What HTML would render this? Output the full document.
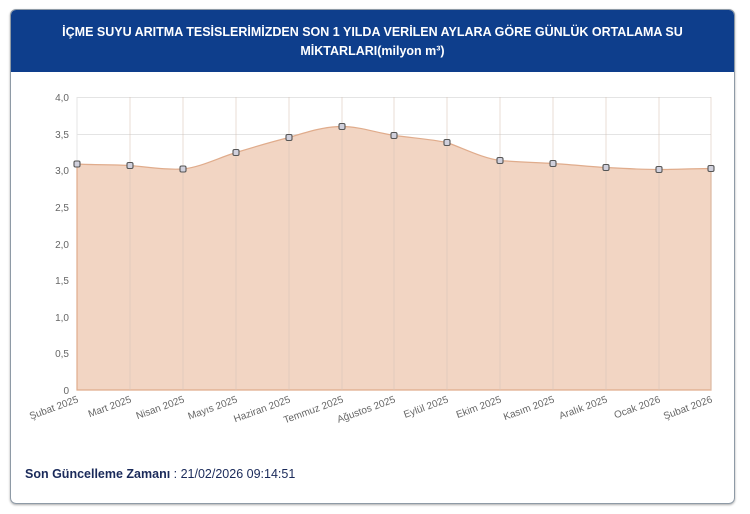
<!DOCTYPE html>
<html><head><meta charset="utf-8"><style>
body{margin:0;width:750px;height:514px;background:#fff;font-family:"Liberation Sans",sans-serif;overflow:hidden}
.card{position:absolute;left:10px;top:9px;width:723px;height:493px;border:1px solid #8e9aa6;border-radius:6px;overflow:hidden;box-shadow:0 1px 2px #aaa}
.hdr{background:#0e3e8c;height:62px;color:#fff;font-weight:bold;font-size:12.5px;text-align:center;line-height:19px;padding-top:13px;box-sizing:border-box}
</style></head><body>
<div class="card"><div class="hdr">İÇME SUYU ARITMA TESİSLERİMİZDEN SON 1 YILDA VERİLEN AYLARA GÖRE GÜNLÜK ORTALAMA SU<br>MİKTARLARI(milyon m³)</div></div>
<svg style="position:absolute;left:0;top:0" width="750" height="514">
<g stroke="#e4e4e4" stroke-width="1">
<line x1="77" x2="711" y1="97.5" y2="97.5"/><line x1="77" x2="711" y1="134.5" y2="134.5"/><line x1="77" x2="711" y1="170.5" y2="170.5"/><line x1="77" x2="711" y1="207.5" y2="207.5"/><line x1="77" x2="711" y1="244.5" y2="244.5"/><line x1="77" x2="711" y1="280.5" y2="280.5"/><line x1="77" x2="711" y1="317.5" y2="317.5"/><line x1="77" x2="711" y1="353.5" y2="353.5"/>
<line x1="77" x2="77" y1="97" y2="390"/>
</g>
<path d="M77,164 C95,165 112,164.5 130,165.5 C148,167 165,170 183,169 C201,167 218,158 236,152.5 C254,147 271,142 289,137.5 C307,132 324,126.5 342,126.5 C360,126.5 377,133 395,135.5 C413,138 430,139 447,142.5 C465,149 482,158 500,160.5 C518,162 535,162.5 553,163.5 C571,164.5 588,166.5 606,167.5 C624,168.5 641,169.5 659,169.5 C677,169.5 694,168.5 711,168.5 L711,390 L77,390 Z" fill="#f2d5c3" stroke="#e0ac8c" stroke-width="1.2"/>
<g stroke="#d9c5b8" stroke-width="0.6">
<line x1="130" x2="130" y1="97" y2="390"/><line x1="183" x2="183" y1="97" y2="390"/><line x1="236" x2="236" y1="97" y2="390"/><line x1="289" x2="289" y1="97" y2="390"/><line x1="342" x2="342" y1="97" y2="390"/><line x1="394" x2="394" y1="97" y2="390"/><line x1="447" x2="447" y1="97" y2="390"/><line x1="500" x2="500" y1="97" y2="390"/><line x1="553" x2="553" y1="97" y2="390"/><line x1="606" x2="606" y1="97" y2="390"/><line x1="659" x2="659" y1="97" y2="390"/><line x1="711" x2="711" y1="97" y2="390"/>
</g>
<g fill="#d0d0dc" stroke="#555" stroke-width="1.1">
<rect x="74" y="161" width="6" height="6" rx="1.5"/><rect x="127" y="162.5" width="6" height="6" rx="1.5"/><rect x="180" y="166" width="6" height="6" rx="1.5"/><rect x="233" y="149.5" width="6" height="6" rx="1.5"/><rect x="286" y="134.5" width="6" height="6" rx="1.5"/><rect x="339" y="123.5" width="6" height="6" rx="1.5"/><rect x="391" y="132.5" width="6" height="6" rx="1.5"/><rect x="444" y="139.5" width="6" height="6" rx="1.5"/><rect x="497" y="157.5" width="6" height="6" rx="1.5"/><rect x="550" y="160.5" width="6" height="6" rx="1.5"/><rect x="603" y="164.5" width="6" height="6" rx="1.5"/><rect x="656" y="166.5" width="6" height="6" rx="1.5"/><rect x="708" y="165.5" width="6" height="6" rx="1.5"/>
</g>
<g font-size="10" fill="#666" text-anchor="end">
<text x="69" y="101">4,0</text><text x="69" y="138">3,5</text><text x="69" y="174">3,0</text><text x="69" y="211">2,5</text><text x="69" y="248">2,0</text><text x="69" y="284">1,5</text><text x="69" y="321">1,0</text><text x="69" y="357">0,5</text><text x="69" y="394">0</text>
</g>
<g font-size="10" fill="#666" text-anchor="end">
<text transform="translate(79,402) rotate(-20)">Şubat 2025</text>
<text transform="translate(132,402) rotate(-20)">Mart 2025</text>
<text transform="translate(185,402) rotate(-20)">Nisan 2025</text>
<text transform="translate(238,402) rotate(-20)">Mayıs 2025</text>
<text transform="translate(291,402) rotate(-20)">Haziran 2025</text>
<text transform="translate(344,402) rotate(-20)">Temmuz 2025</text>
<text transform="translate(396,402) rotate(-20)">Ağustos 2025</text>
<text transform="translate(449,402) rotate(-20)">Eylül 2025</text>
<text transform="translate(502,402) rotate(-20)">Ekim 2025</text>
<text transform="translate(555,402) rotate(-20)">Kasım 2025</text>
<text transform="translate(608,402) rotate(-20)">Aralık 2025</text>
<text transform="translate(661,402) rotate(-20)">Ocak 2026</text>
<text transform="translate(713,402) rotate(-20)">Şubat 2026</text>
</g>
</svg>
<div style="position:absolute;left:25px;top:467px;font-size:12.5px;color:#1a2a5a"><b>Son Güncelleme Zamanı</b> : 21/02/2026 09:14:51</div>
</body></html>
